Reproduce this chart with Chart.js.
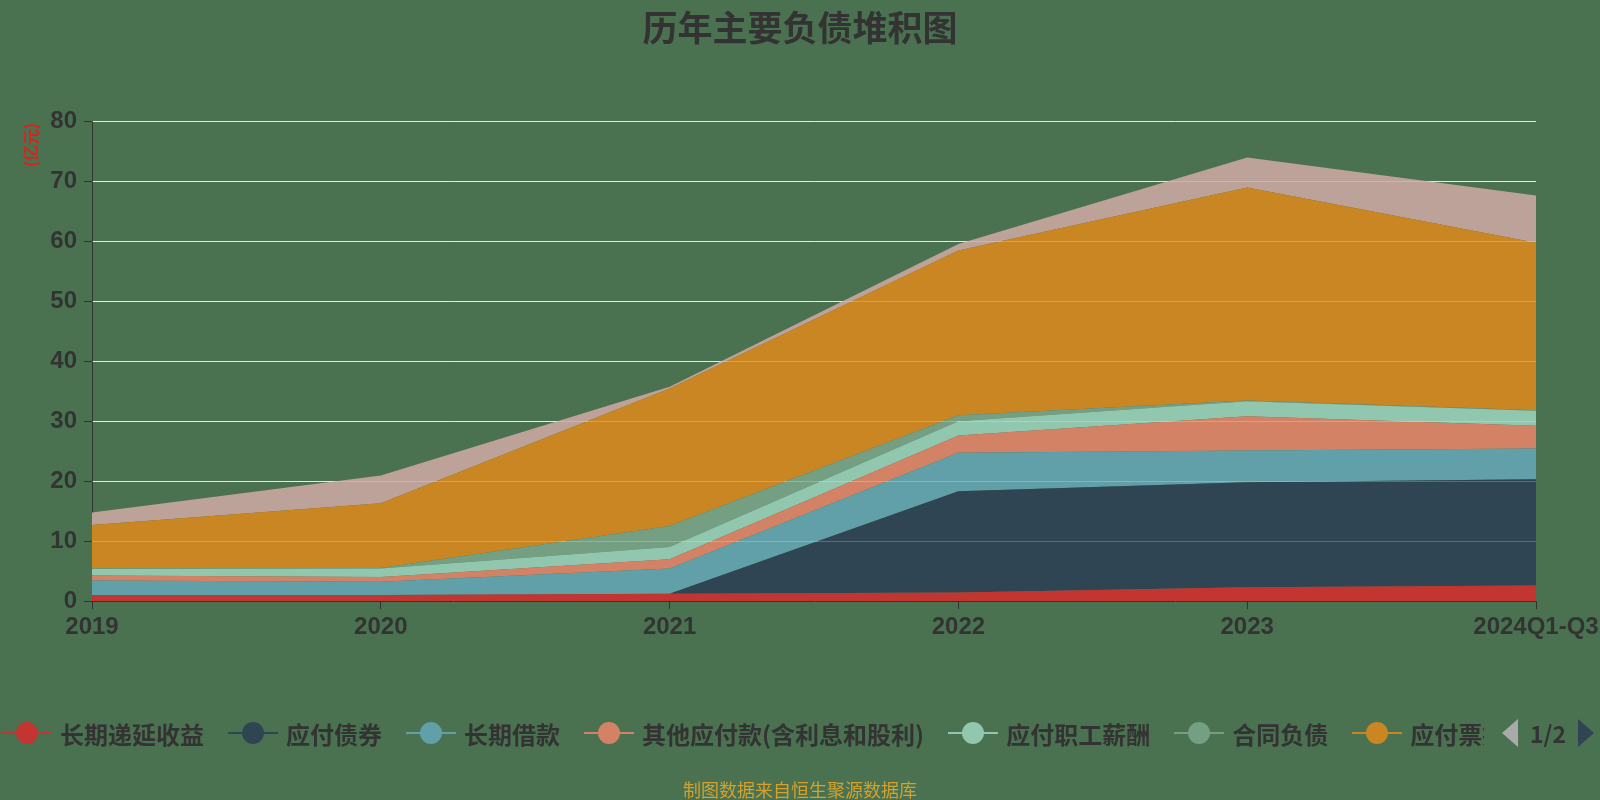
<!DOCTYPE html>
<html>
<head>
<meta charset="utf-8">
<script src="https://cdn.jsdelivr.net/npm/chart.js@4/dist/chart.umd.min.js"></script>
<style>
  body { margin: 0; }
  #wrap { position: relative; width: 1600px; height: 800px; background: #4a7250; overflow: hidden;
          font-family: "Noto Sans CJK SC", "Noto Sans", sans-serif; }
  #title { position: absolute; left: 0; width: 1600px; top: 0px; text-align: center;
           font-size: 35px; font-weight: bold; color: #333; }
  #legend { position: absolute; left: 2px; top: 714px; width: 1482px; height: 38px; overflow: hidden;
            white-space: nowrap; display: flex; align-items: center; }
  .item { display: inline-flex; align-items: center; margin-right: 24px; flex: none; }
  .icon { position: relative; width: 50px; height: 24px; margin-right: 8px; }
  .icon .ln { position: absolute; left: 0; width: 50px; top: 11px; height: 2px; }
  .icon .dot { position: absolute; left: 14px; top: 1px; width: 22px; height: 22px; border-radius: 50%; }
  .item span { font-size: 24px; font-weight: bold; color: #333; }
  #pager { position: absolute; left: 1500px; top: 714px; height: 38px; display: flex; align-items: center; }
  #pager span { font-size: 23px; font-weight: bold; color: #333; margin: 0 10px; }
  #footer { position: absolute; left: 0; width: 1600px; top: 776px; text-align: center;
            font-size: 18px; color: #d4a12c; }
</style>
</head>
<body>
<div id="wrap">
  <canvas id="chart" width="1600" height="800"></canvas>
  <div id="title">历年主要负债堆积图</div>
  <div id="legend"></div>
  <div id="pager">
    <svg width="20" height="32"><polygon points="18,2 18,30 2,16" fill="#aaa"/></svg>
    <span>1/2</span>
    <svg width="20" height="32"><polygon points="2,2 2,30 18,16" fill="#2f4554"/></svg>
  </div>
  <div id="footer">制图数据来自恒生聚源数据库</div>
</div>
<script>
const years = ['2019', '2020', '2021', '2022', '2023', '2024Q1-Q3'];
const seriesNames = ['长期递延收益', '应付债券', '长期借款', '其他应付款(含利息和股利)',
                     '应付职工薪酬', '合同负债', '应付票据及应付账款', '短期借款'];
const seriesColors = ['#c23531', '#2f4554', '#61a0a8', '#d48265', '#91c7ae', '#749f83', '#ca8622', '#bda29a'];

// values in 亿元
const deferredIncome = [1.0, 1.0, 1.2, 1.4, 2.3, 2.6];
const bondsPayable   = [0, 0, 0, 16.9, 17.5, 17.7];
const longTermLoans  = [2.4, 2.2, 4.2, 6.4, 5.3, 5.1];
const otherPayables  = [0.85, 0.8, 1.55, 2.9, 5.7, 3.8];
const staffPayables  = [1.1, 1.4, 2.05, 2.35, 2.5, 2.5];
const contractLiab   = [0.1, 0.1, 3.5, 1.0, 0.1, 0.1];
const notesAccounts  = [7.2, 10.8, 22.9, 27.45, 35.5, 27.9];
const shortTermLoans = [2.1, 4.6, 0.3, 1.1, 5.0, 7.9];
const allSeries = [deferredIncome, bondsPayable, longTermLoans, otherPayables,
                   staffPayables, contractLiab, notesAccounts, shortTermLoans];
const yTicks = [0, 10, 20, 30, 40, 50, 60, 70, 80];

// legend (ECharts-like, first page only shows what fits)
const legend = document.getElementById('legend');
seriesNames.forEach((name, i) => {
    const item = document.createElement('div');
    item.className = 'item';
    item.innerHTML = `<div class="icon"><div class="ln" style="background:${seriesColors[i]}"></div>` +
        `<div class="dot" style="background:${seriesColors[i]}"></div></div><span>${name}</span>`;
    legend.appendChild(item);
});

const yAxisName = {
    id: 'yAxisName',
    afterDraw(chart) {
        const ctx = chart.ctx;
        ctx.save();
        ctx.translate(31, 145);
        ctx.rotate(-Math.PI / 2);
        ctx.font = 'bold 16px "Noto Sans CJK SC"';
        ctx.fillStyle = '#e0201a';
        ctx.textAlign = 'center';
        ctx.textBaseline = 'middle';
        ctx.fillText('(亿元)', 0, 0);
        ctx.restore();
    }
};

// faint split lines showing through the areas
const gridOverlay = {
    id: 'gridOverlay',
    afterDatasetsDraw(chart) {
        const { ctx, chartArea, scales } = chart;
        ctx.save();
        ctx.strokeStyle = 'rgba(255,255,255,0.22)';
        ctx.lineWidth = 1;
        yTicks.slice(1).forEach(v => {
            const y = Math.round(scales.y.getPixelForValue(v)) + 0.5;
            ctx.beginPath();
            ctx.moveTo(chartArea.left, y);
            ctx.lineTo(chartArea.right, y);
            ctx.stroke();
        });
        ctx.restore();
    }
};

const tickFont = { size: 24, family: '"Liberation Sans", Arial', weight: 'bold' };

const ctx = document.getElementById('chart').getContext('2d');
new Chart(ctx, {
    type: 'line',
    data: {
        labels: years,
        datasets: allSeries.map((vals, i) => ({
            label: seriesNames[i],
            data: vals,
            borderColor: seriesColors[i],
            backgroundColor: seriesColors[i],
            borderWidth: 0,
            pointRadius: 0,
            tension: 0,
            fill: i === 0 ? 'origin' : '-1'
        }))
    },
    options: {
        responsive: false,
        animation: false,
        layout: { padding: { left: 0, right: 64, top: 121, bottom: 159 } },
        plugins: { legend: { display: false }, tooltip: { enabled: false } },
        scales: {
            x: {
                offset: false,
                afterFit: s => { s.height = 40; s.paddingLeft = 0; s.paddingRight = 0; },
                grid: { drawOnChartArea: false, tickLength: 8, tickColor: '#333' },
                border: { color: '#333', width: 1 },
                ticks: { color: '#333', font: tickFont, padding: 4, maxRotation: 0 }
            },
            y: {
                stacked: true,
                min: 0,
                max: 80,
                afterFit: s => { s.width = 92; },
                afterBuildTicks: s => { s.ticks = yTicks.map(v => ({ value: v })); },
                grid: { color: '#e2e2e2', tickLength: 8, tickColor: '#333' },
                border: { color: '#333', width: 1 },
                ticks: { color: '#333', font: tickFont, padding: 7 }
            }
        }
    },
    plugins: [gridOverlay, yAxisName]
});
</script>
</body>
</html>
